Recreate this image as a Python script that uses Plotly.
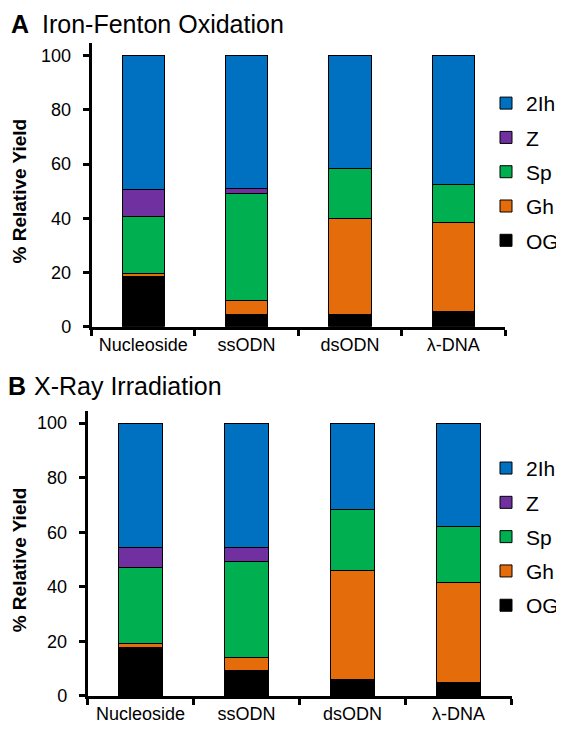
import plotly.graph_objects as go

W, H = 564, 730

categories = ["Nucleoside", "ssODN", "dsODN", "λ-DNA"]
series_names = ["OG", "Gh", "Sp", "Z", "2Ih"]
series_colors = ["#000000", "#E46C0A", "#00B050", "#7030A0", "#0070C0"]
legend_ranks = [5, 4, 3, 2, 1]

# Panel A: Iron-Fenton Oxidation
og_a = [18.4, 4.5, 4.5, 5.5]
gh_a = [1.3, 5.2, 35.6, 32.8]
sp_a = [20.9, 39.4, 18.1, 14.3]
z_a = [9.9, 1.9, 0, 0]
ih_a = [49.5, 49.0, 41.8, 47.4]

# Panel B: X-Ray Irradiation
og_b = [17.8, 9.2, 6.1, 4.9]
gh_b = [1.3, 4.8, 40.0, 36.8]
sp_b = [27.8, 35.3, 22.2, 20.4]
z_b = [7.6, 5.2, 0, 0]
ih_b = [45.5, 45.5, 31.7, 37.9]

y_ticks = [0, 20, 40, 60, 80, 100]

FONT = "Liberation Sans, Arial, sans-serif"

def px_x(p):
    return p / W

def px_y(p):
    return 1 - p / H

fig = go.Figure()

panel_a = [og_a, gh_a, sp_a, z_a, ih_a]
panel_b = [og_b, gh_b, sp_b, z_b, ih_b]

for i, (name, color, vals) in enumerate(zip(series_names, series_colors, panel_a)):
    fig.add_trace(go.Bar(
        x=categories, y=vals, name=name, width=0.41,
        marker=dict(color=color, line=dict(color="black", width=1)),
        xaxis="x", yaxis="y", legend="legend", legendgroup=f"a{i}",
        legendrank=legend_ranks[i], hoverinfo="skip",
    ))

for i, (name, color, vals) in enumerate(zip(series_names, series_colors, panel_b)):
    fig.add_trace(go.Bar(
        x=categories, y=vals, name=name, width=0.41,
        marker=dict(color=color, line=dict(color="black", width=1)),
        xaxis="x2", yaxis="y2", legend="legend2", legendgroup=f"b{i}",
        legendrank=legend_ranks[i], hoverinfo="skip",
    ))

axis_common = dict(
    showline=True, linecolor="black", linewidth=2.5,
    ticks="outside", ticklen=6, tickwidth=2.5, tickcolor="black",
    showgrid=False, zeroline=False,
    tickfont=dict(family=FONT, size=18, color="black"),
)

fig.update_layout(
    width=W, height=H,
    margin=dict(l=0, r=0, t=0, b=0),
    paper_bgcolor="white", plot_bgcolor="white",
    barmode="stack",
    font=dict(family=FONT, color="black"),
    xaxis=dict(domain=[px_x(83.5), px_x(497)], anchor="y", type="category",
               range=[-0.5, 3.5], tickson="boundaries", **axis_common),
    yaxis=dict(domain=[px_y(323.3), px_y(35)], anchor="x", range=[0, 104.8],
               tickvals=y_ticks, ticklabelstandoff=8, **axis_common),
    xaxis2=dict(domain=[px_x(79.5), px_x(503.5)], anchor="y2", type="category",
                range=[-0.5, 3.5], tickson="boundaries", **axis_common),
    yaxis2=dict(domain=[px_y(697.5), px_y(409)], anchor="x2", range=[0, 104.3],
                tickvals=y_ticks, ticklabelstandoff=8, **axis_common),
    legend=dict(x=px_x(478), y=px_y(76), xanchor="left", yanchor="top",
                traceorder="grouped", tracegroupgap=4,
                font=dict(family=FONT, size=21, color="black"),
                bgcolor="rgba(0,0,0,0)"),
    legend2=dict(x=px_x(478), y=px_y(446), xanchor="left", yanchor="top",
                 traceorder="grouped", tracegroupgap=4,
                 font=dict(family=FONT, size=21, color="black"),
                 bgcolor="rgba(0,0,0,0)"),
    showlegend=True,
)

annotations = [
    dict(text="<b>A</b>", x=px_x(12), y=1.0, xanchor="center", yanchor="top",
         font=dict(family=FONT, size=25, color="black")),
    dict(text="Iron-Fenton Oxidation", x=px_x(32), y=1.0, xanchor="left", yanchor="top",
         font=dict(family=FONT, size=25, color="black")),
    dict(text="<b>B</b>", x=px_x(9), y=px_y(367), xanchor="center", yanchor="top",
         font=dict(family=FONT, size=25, color="black")),
    dict(text="X-Ray Irradiation", x=px_x(24), y=px_y(367), xanchor="left", yanchor="top",
         font=dict(family=FONT, size=25, color="black")),
    dict(text="<b>% Relative Yield</b>", x=px_x(11), y=px_y(186), xanchor="center", yanchor="middle",
         textangle=-90, font=dict(family=FONT, size=19, color="black")),
    dict(text="<b>% Relative Yield</b>", x=px_x(11), y=px_y(560), xanchor="center", yanchor="middle",
         textangle=-90, font=dict(family=FONT, size=19, color="black")),
]
for a in annotations:
    a.update(xref="paper", yref="paper", showarrow=False)
fig.update_layout(annotations=annotations)

fig.write_html("out.html")
